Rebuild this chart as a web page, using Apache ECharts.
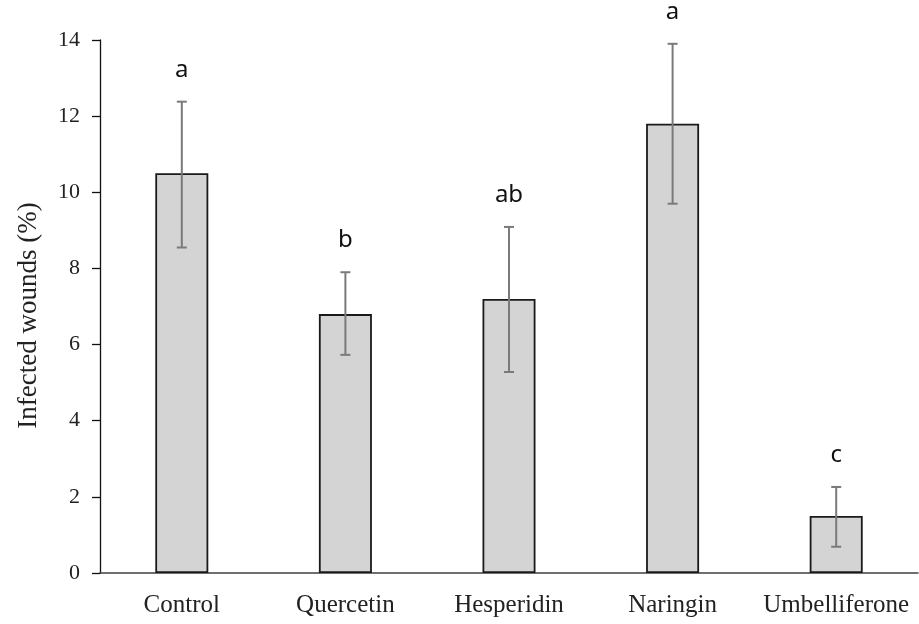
<!DOCTYPE html>
<html>
<head>
<meta charset="utf-8">
<script src="https://cdn.jsdelivr.net/npm/echarts@6/dist/echarts.min.js"></script>
<style>
html,body{margin:0;padding:0;background:#fff;}
#chart{width:919px;height:624px;}
</style>
</head>
<body>
<div id="chart"></div>
<script>
var categories = ['Control', 'Quercetin', 'Hesperidin', 'Naringin', 'Umbelliferone'];
var means = [10.5, 6.8, 7.2, 11.8, 1.5];
var errLow = [8.55, 5.73, 5.28, 9.7, 0.69];
var errHigh = [12.38, 7.9, 9.09, 13.9, 2.26];
var letters = ['a', 'b', 'ab', 'a', 'c'];
var yTicks = [0, 2, 4, 6, 8, 10, 12, 14];

var errData = categories.map(function (c, i) { return [i, errLow[i], errHigh[i], letters[i]]; });

var chart = echarts.init(document.getElementById('chart'));
chart.setOption({
  animation: false,
  backgroundColor: '#ffffff',
  grid: { left: 100, right: 1, top: 40, bottom: 51, containLabel: false },
  xAxis: {
    type: 'category',
    data: categories,
    axisTick: { show: false },
    axisLine: { lineStyle: { color: '#404040', width: 1.5 } },
    axisLabel: { interval: 0, hideOverlap: false, fontFamily: 'Liberation Serif', fontSize: 25, color: '#222', margin: 20 }
  },
  yAxis: {
    type: 'value',
    min: yTicks[0],
    max: yTicks[yTicks.length - 1],
    interval: 2,
    name: 'Infected wounds (%)',
    nameLocation: 'middle',
    nameRotate: 90,
    nameGap: 58,
    nameTextStyle: { fontFamily: 'Liberation Serif', fontSize: 27, color: '#222', padding: [0, 18, 0, 0] },
    splitLine: { show: false },
    axisLine: { show: true, lineStyle: { color: '#111', width: 1.3 } },
    axisTick: { show: true, inside: false, length: 8, lineStyle: { color: '#111', width: 1.3 } },
    axisLabel: { fontFamily: 'Liberation Serif', fontSize: 22, color: '#222', margin: 20 }
  },
  series: [
    {
      type: 'bar',
      data: means,
      barWidth: 53,
      itemStyle: { color: '#d4d4d4', borderColor: '#1a1a1a', borderWidth: 1.8 }
    },
    {
      type: 'custom',
      data: errData,
      z: 10,
      renderItem: function (params, api) {
        var x = api.value(0);
        var lo = api.coord([x, api.value(1)]);
        var hi = api.coord([x, api.value(2)]);
        var cap = 5;
        var style = { stroke: '#7a7a7a', lineWidth: 2 };
        return {
          type: 'group',
          children: [
            { type: 'line', shape: { x1: lo[0], y1: lo[1], x2: hi[0], y2: hi[1] }, style: style },
            { type: 'line', shape: { x1: lo[0] - cap, y1: lo[1], x2: lo[0] + cap, y2: lo[1] }, style: style },
            { type: 'line', shape: { x1: hi[0] - cap, y1: hi[1], x2: hi[0] + cap, y2: hi[1] }, style: style },
            { type: 'text', x: hi[0], y: hi[1] - 20,
              style: { text: api.value(3), fontFamily: 'Noto Sans', fontSize: 24, fill: '#111', align: 'center', verticalAlign: 'bottom' } }
          ]
        };
      }
    }
  ]
});
</script>
</body>
</html>
